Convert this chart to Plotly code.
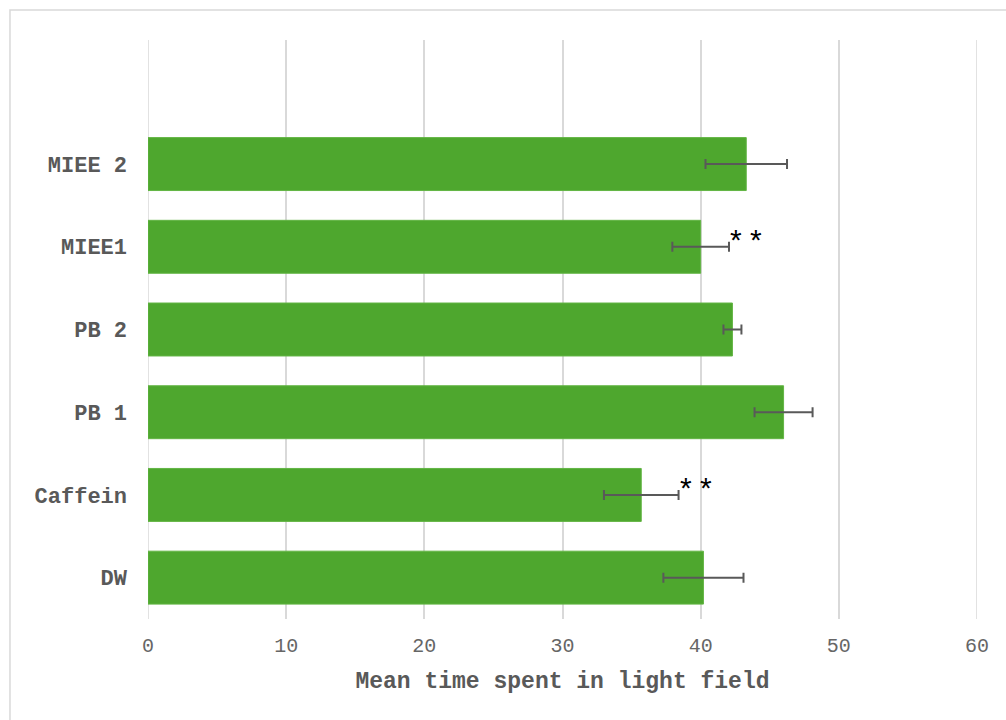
import plotly.graph_objects as go

# Groups (bottom to top) and their mean time in the light field
groups = ["DW", "Caffein", "PB 1", "PB 2", "MIEE1", "MIEE 2"]
means = [40.2, 35.7, 46.0, 42.3, 40.0, 43.3]
errors = [2.9, 2.7, 2.1, 0.65, 2.05, 2.95]
# Significance marks shown next to the error bars
marks = ["", "* *", "", "", "* *", ""]

x_ticks = [0, 10, 20, 30, 40, 50, 60]
positions = list(range(len(groups)))

fig = go.Figure()
fig.add_trace(go.Bar(
    x=means,
    y=positions,
    orientation="h",
    marker=dict(color="#4ea72e", line=dict(color="#63b544", width=1)),
    error_x=dict(type="data", array=errors, visible=True,
                 color="#595959", thickness=2, width=5),
    width=0.64,
    hoverinfo="x+y",
))

for pos, m, e, mk in zip(positions, means, errors, marks):
    if mk:
        fig.add_annotation(
            x=m + e, y=pos, text=mk, showarrow=False,
            xanchor="left", yanchor="bottom", yshift=-11, xshift=-1,
            font=dict(family="Liberation Sans", size=30, color="#000000"),
        )

# Gridlines at both ends of the value axis
for v in (x_ticks[0], x_ticks[-1]):
    fig.add_shape(type="line", xref="x", yref="paper", x0=v, x1=v, y0=0, y1=1,
                  line=dict(color="#d9d9d9", width=1.5), layer="below")

# Light outer frame around the chart area
fig.add_shape(type="rect", xref="paper", yref="paper",
              x0=-0.1665, x1=1.06, y0=-0.19, y1=1.0518,
              line=dict(color="#d9d9d9", width=1.5), layer="below")

fig.update_layout(
    width=1006, height=720,
    margin=dict(l=148, r=29, t=40, b=101),
    plot_bgcolor="white", paper_bgcolor="white",
    showlegend=False,
    font=dict(family="Liberation Mono", color="#595959"),
    xaxis=dict(
        range=[0, 60], tickvals=x_ticks,
        showgrid=True, gridcolor="#d9d9d9", gridwidth=1.5,
        zeroline=False, showline=False,
        ticks="", ticklabelstandoff=12,
        tickfont=dict(family="Liberation Mono", size=20, color="#666666"),
        title=dict(text="<b>Mean time spent in light field</b>", standoff=14,
                   font=dict(family="Liberation Mono", size=23, color="#595959")),
    ),
    yaxis=dict(
        range=[-0.5, 6.5], tickvals=positions, ticktext=groups,
        showgrid=False, zeroline=False, showline=False,
        ticks="", ticklabelstandoff=20,
        tickfont=dict(family="Liberation Mono", size=22, color="#595959", weight="bold"),
    ),
)

fig.write_html("out.html")
